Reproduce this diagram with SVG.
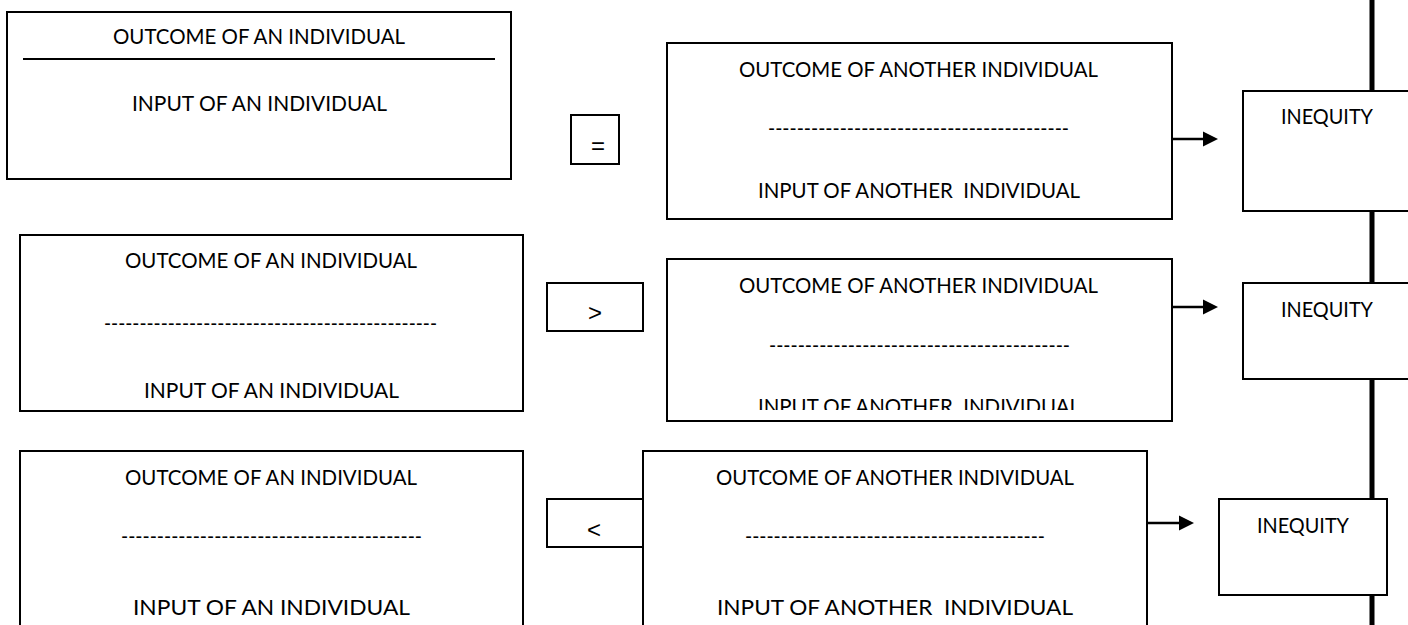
<svg xmlns="http://www.w3.org/2000/svg" width="1408" height="625" viewBox="0 0 1408 625">
  <style>
    .box { fill: #ffffff; stroke: #000000; stroke-width: 2; }
    .t { font-family: Lato, "Open Sans", "Liberation Sans", sans-serif; font-size: 21px; fill: #000000; }
    .dash { font-family: Lato, "Open Sans", "Liberation Sans", sans-serif; font-size: 21px; fill: #000000; }
    .op { font-family: "Liberation Sans", Arial, sans-serif; font-size: 24px; fill: #000000; text-anchor: middle; }
    .rule { stroke: #000000; stroke-width: 2; }
    .bar { stroke: #000000; stroke-width: 5; fill: none; }
    .arrow { stroke: #000000; stroke-width: 2.5; fill: none; }
    .head { fill: #000000; }
  </style>
  <defs>
    <clipPath id="clip-row2-input">
      <rect x="667" y="259" width="505" height="151"/>
    </clipPath>
  </defs>

  <rect x="0" y="0" width="1408" height="625" fill="#ffffff"/>

  <!-- connectors: right-hand bar and the arrows into each INEQUITY box -->
  <g id="connectors">
    <line class="bar" x1="1372" y1="0" x2="1372" y2="625"/>
    <line class="arrow" x1="1172" y1="139" x2="1204" y2="139"/>
    <polygon class="head" points="1203,131.5 1218,139 1203,146.5"/>
    <line class="arrow" x1="1172" y1="307" x2="1204" y2="307"/>
    <polygon class="head" points="1203,299.5 1218,307 1203,314.5"/>
    <line class="arrow" x1="1147" y1="523" x2="1180" y2="523"/>
    <polygon class="head" points="1179,515.5 1194,523 1179,530.5"/>
  </g>

  <!-- row 1 -->
  <g id="self-ratio-1">
    <rect class="box" x="7" y="12" width="504" height="167"/>
    <text class="t" x="113" y="44" textLength="292" lengthAdjust="spacingAndGlyphs">OUTCOME OF AN INDIVIDUAL</text>
    <line class="rule" x1="23" y1="59" x2="495" y2="59"/>
    <text class="t" x="132" y="111" textLength="255" lengthAdjust="spacingAndGlyphs">INPUT OF AN INDIVIDUAL</text>
  </g>
  <g id="op-equal">
    <rect class="box" x="571" y="115" width="48" height="49"/>
    <text class="op" x="598" y="154">=</text>
  </g>
  <g id="other-ratio-1">
    <rect class="box" x="667" y="43" width="505" height="176"/>
    <text class="t" x="739" y="77" textLength="359" lengthAdjust="spacingAndGlyphs">OUTCOME OF ANOTHER INDIVIDUAL</text>
    <text class="dash" x="768" y="136" textLength="301" lengthAdjust="spacingAndGlyphs">------------------------------------------</text>
    <text class="t" x="758" y="198" textLength="322" lengthAdjust="spacingAndGlyphs" xml:space="preserve">INPUT OF ANOTHER  INDIVIDUAL</text>
  </g>
  <g id="inequity-1">
    <rect class="box" x="1243" y="91" width="200" height="120"/>
    <text class="t" x="1281" y="124" textLength="92" lengthAdjust="spacingAndGlyphs">INEQUITY</text>
  </g>

  <!-- row 2 -->
  <g id="self-ratio-2">
    <rect class="box" x="20" y="235" width="503" height="176"/>
    <text class="t" x="125" y="268" textLength="292" lengthAdjust="spacingAndGlyphs">OUTCOME OF AN INDIVIDUAL</text>
    <text class="dash" x="104" y="331" textLength="333" lengthAdjust="spacingAndGlyphs">-----------------------------------------------</text>
    <text class="t" x="144" y="398" textLength="255" lengthAdjust="spacingAndGlyphs">INPUT OF AN INDIVIDUAL</text>
  </g>
  <g id="op-greater">
    <rect class="box" x="547" y="283" width="96" height="48"/>
    <text class="op" x="595" y="321">&gt;</text>
  </g>
  <g id="other-ratio-2">
    <rect class="box" x="667" y="259" width="505" height="162"/>
    <text class="t" x="739" y="293" textLength="359" lengthAdjust="spacingAndGlyphs">OUTCOME OF ANOTHER INDIVIDUAL</text>
    <text class="dash" x="769" y="353" textLength="301" lengthAdjust="spacingAndGlyphs">------------------------------------------</text>
    <text class="t" x="758" y="414" textLength="322" lengthAdjust="spacingAndGlyphs" clip-path="url(#clip-row2-input)" xml:space="preserve">INPUT OF ANOTHER  INDIVIDUAL</text>
  </g>
  <g id="inequity-2">
    <rect class="box" x="1243" y="283" width="200" height="96"/>
    <text class="t" x="1281" y="317" textLength="92" lengthAdjust="spacingAndGlyphs">INEQUITY</text>
  </g>

  <!-- row 3 -->
  <g id="self-ratio-3">
    <rect class="box" x="20" y="451" width="503" height="190"/>
    <text class="t" x="125" y="485" textLength="292" lengthAdjust="spacingAndGlyphs">OUTCOME OF AN INDIVIDUAL</text>
    <text class="dash" x="121" y="544" textLength="301" lengthAdjust="spacingAndGlyphs">------------------------------------------</text>
    <text class="t" x="133" y="615" textLength="277" lengthAdjust="spacingAndGlyphs">INPUT OF AN INDIVIDUAL</text>
  </g>
  <g id="op-less">
    <rect class="box" x="547" y="499" width="96" height="48"/>
    <text class="op" x="594" y="538">&lt;</text>
  </g>
  <g id="other-ratio-3">
    <rect class="box" x="643" y="451" width="504" height="190"/>
    <text class="t" x="716" y="485" textLength="358" lengthAdjust="spacingAndGlyphs">OUTCOME OF ANOTHER INDIVIDUAL</text>
    <text class="dash" x="745" y="544" textLength="300" lengthAdjust="spacingAndGlyphs">------------------------------------------</text>
    <text class="t" x="717" y="615" textLength="356" lengthAdjust="spacingAndGlyphs" xml:space="preserve">INPUT OF ANOTHER  INDIVIDUAL</text>
  </g>
  <g id="inequity-3">
    <rect class="box" x="1219" y="499" width="168" height="96"/>
    <text class="t" x="1257" y="533" textLength="92" lengthAdjust="spacingAndGlyphs">INEQUITY</text>
  </g>
</svg>
